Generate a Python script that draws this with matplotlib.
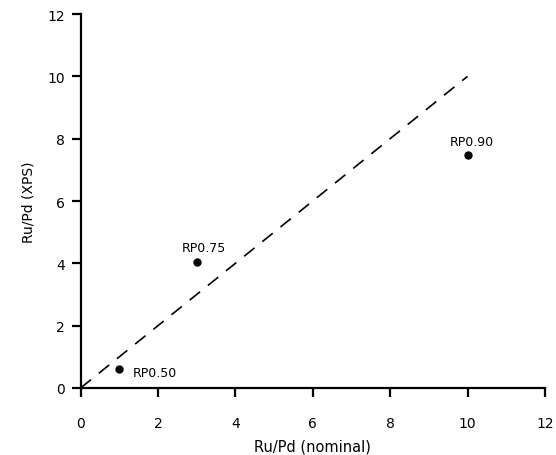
import matplotlib
matplotlib.use("Agg")
import matplotlib.pyplot as plt

# Data
nominal = [1, 3, 10]
xps = [0.62, 4.03, 7.47]
labels = ["RP0.50", "RP0.75", "RP0.90"]
ideal_x = [0, 10]
ideal_y = [0, 10]
ticks = [0, 2, 4, 6, 8, 10, 12]

fig = plt.figure(figsize=(5.56, 4.56), dpi=100)
ax = fig.add_axes([0.145, 0.147, 0.835, 0.820])

ax.plot(ideal_x, ideal_y, color="black", lw=1.2, dashes=(8, 6), clip_on=False)
ax.plot(nominal, xps, "o", color="black", ms=5, clip_on=False)

offsets = [(9.4, -5, "left"), (5, 7.9, "center"), (2.9, 7.7, "center")]
for x, y, t, (dx, dy, ha) in zip(nominal, xps, labels, offsets):
    ax.annotate(t, (x, y), xytext=(dx, dy), textcoords="offset points",
                ha=ha, va="baseline", fontsize=9)

ax.set_xlim(0, 12)
ax.set_ylim(0, 12)
ax.set_xticks(ticks)
ax.set_yticks(ticks)
for s in ["top", "right"]:
    ax.spines[s].set_visible(False)
for s in ["left", "bottom"]:
    ax.spines[s].set_linewidth(1.6)
ax.tick_params(direction="out", length=6.5, width=1.6, labelsize=10)
ax.tick_params(axis="x", pad=14)
ax.tick_params(axis="y", pad=5)
ax.set_xlabel("Ru/Pd (nominal)", fontsize=10.5, labelpad=6)
ax.set_ylabel("Ru/Pd (XPS)", fontsize=10, labelpad=8)

fig.savefig("out.png", dpi=100)
